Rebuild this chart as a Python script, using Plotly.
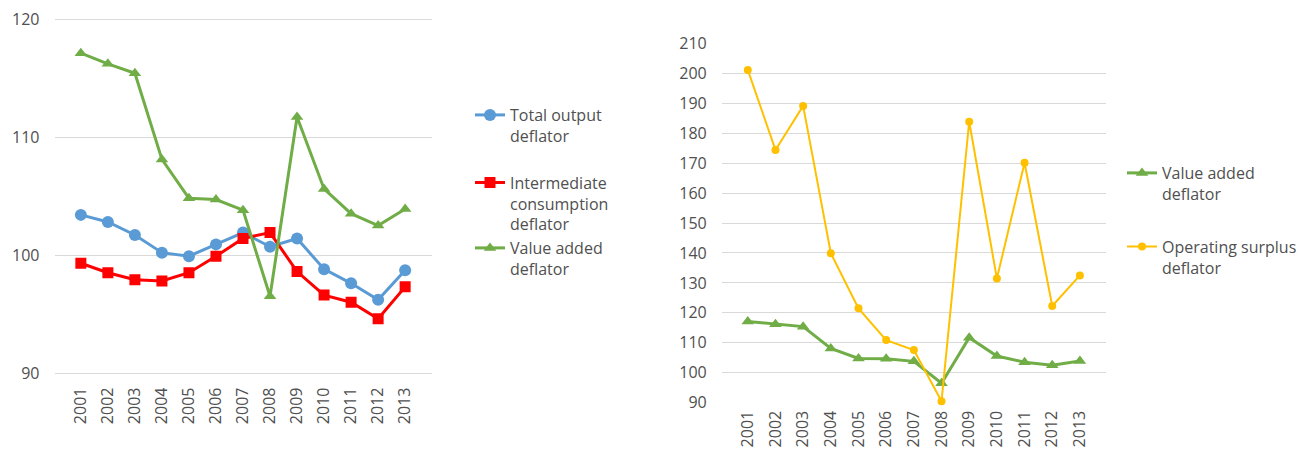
import plotly.graph_objects as go

# Data (index values, previous year = 100)
years = ["2001", "2002", "2003", "2004", "2005", "2006", "2007",
         "2008", "2009", "2010", "2011", "2012", "2013"]
total_output = [103.4, 102.8, 101.7, 100.2, 99.9, 100.9, 101.9,
                100.7, 101.4, 98.8, 97.6, 96.2, 98.7]
intermediate = [99.3, 98.5, 97.9, 97.8, 98.5, 99.9, 101.4,
                101.9, 98.6, 96.6, 96.0, 94.6, 97.3]
value_added = [117.1, 116.2, 115.4, 108.1, 104.8, 104.7, 103.8,
               96.5, 111.7, 105.6, 103.5, 102.5, 103.9]
operating_surplus = [201.1, 174.4, 189.1, 139.9, 121.5, 110.9, 107.6,
                     90.5, 183.8, 131.5, 170.1, 122.3, 132.5]

W, H = 1307, 450
TEXT = "#505050"
GRID = "#D9D9D9"
FONT = "Open Sans"

BLUE = "#5B9BD5"
RED = "#FF0000"
GREEN = "#70AD47"
GOLD = "#FFC000"

fig = go.Figure()

# Left panel
fig.add_trace(go.Scatter(
    x=years, y=total_output, name="Total output<br>deflator",
    mode="lines+markers", line=dict(color=BLUE, width=3),
    marker=dict(symbol="circle", size=12, color=BLUE),
    xaxis="x", yaxis="y", legend="legend", legendgroup="a"))
fig.add_trace(go.Scatter(
    x=years, y=intermediate, name="Intermediate<br>consumption<br>deflator",
    mode="lines+markers", line=dict(color=RED, width=3),
    marker=dict(symbol="square", size=11, color=RED),
    xaxis="x", yaxis="y", legend="legend", legendgroup="b"))
fig.add_trace(go.Scatter(
    x=years, y=value_added, name="Value added<br>deflator",
    mode="lines+markers", line=dict(color=GREEN, width=3),
    marker=dict(symbol="triangle-up", size=11, color=GREEN),
    xaxis="x", yaxis="y", legend="legend", legendgroup="b"))

# Right panel
fig.add_trace(go.Scatter(
    x=years, y=value_added, name="Value added<br>deflator",
    mode="lines+markers", line=dict(color=GREEN, width=3),
    marker=dict(symbol="triangle-up", size=11, color=GREEN),
    xaxis="x2", yaxis="y2", legend="legend2", legendgroup="c"))
fig.add_trace(go.Scatter(
    x=years, y=operating_surplus, name="Operating surplus<br>deflator",
    mode="lines+markers", line=dict(color=GOLD, width=2),
    marker=dict(symbol="circle", size=8, color=GOLD),
    cliponaxis=False,
    xaxis="x2", yaxis="y2", legend="legend2", legendgroup="d"))

tickfont = dict(family=FONT, size=16, color=TEXT)
xcommon = dict(type="category", tickangle=-90, showgrid=False, showline=False,
               zeroline=False, ticks="", tickfont=tickfont,
               automargin=False, fixedrange=True)
ycommon = dict(dtick=10, showgrid=True, gridcolor=GRID, gridwidth=1,
               showline=False, zeroline=False, ticks="", tickfont=tickfont,
               ticklabelstandoff=14, automargin=False, fixedrange=True)

legend_common = dict(font=dict(family=FONT, size=16, color=TEXT),
                     bgcolor="rgba(0,0,0,0)", borderwidth=0,
                     xanchor="left", yanchor="top", valign="top",
                     traceorder="grouped")

fig.update_layout(
    width=W, height=H,
    margin=dict(l=0, r=0, t=0, b=0, autoexpand=False),
    paper_bgcolor="white", plot_bgcolor="white",
    showlegend=True,
    xaxis=dict(domain=[54.5 / W, 431.5 / W], anchor="y",
               ticklabelstandoff=8, **xcommon),
    yaxis=dict(domain=[74.64 / H, 433.36 / H], range=[89.8, 120.2],
               anchor="x", **ycommon),
    xaxis2=dict(domain=[721.7 / W, 1106 / W], anchor="y2",
                ticklabelstandoff=3, **xcommon),
    yaxis2=dict(domain=[46.4 / H, 407.6 / H], range=[89.7, 210.3],
                anchor="x2", **ycommon),
    legend=dict(x=470 / W, y=1 - 98 / H, tracegroupgap=23, **legend_common),
    legend2=dict(x=1122 / W, y=1 - 156 / H, tracegroupgap=29, **legend_common),
)

fig.write_html("out.html")
